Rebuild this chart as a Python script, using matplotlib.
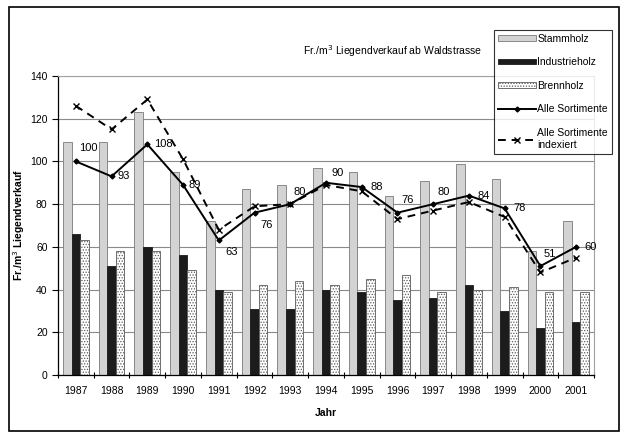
import matplotlib
matplotlib.use("Agg")
import matplotlib.pyplot as plt
from matplotlib.patches import Rectangle
import numpy as np

plt.rcParams["font.family"] = ["Liberation Sans", "DejaVu Sans"]
plt.rcParams["hatch.linewidth"] = 0.6

years = [1987, 1988, 1989, 1990, 1991, 1992, 1993, 1994,
         1995, 1996, 1997, 1998, 1999, 2000, 2001]
stammholz = [109, 109, 123, 95, 72, 87, 89, 97, 95, 84, 91, 99, 92, 58, 72]
industrieholz = [66, 51, 60, 56, 40, 31, 31, 40, 39, 35, 36, 42, 30, 22, 25]
brennholz = [63, 58, 58, 49, 39, 42, 44, 42, 45, 47, 39, 40, 41, 39, 39]
alle = [100, 93, 108, 89, 63, 76, 80, 90, 88, 76, 80, 84, 78, 51, 60]
alle_idx = [126, 115, 129, 101, 68, 79, 80, 89, 86, 73, 77, 81, 74, 48, 55]

# label offsets in points (dx, dy) for the value labels
label_off = [(2, 10), (4, 0), (5, 0), (4, 0), (5, -8), (4, -9), (2, 9), (4, 7),
             (6, 0), (3, 9), (3, 9), (6, 0), (6, 0), (2, 9), (6, 0)]

fig = plt.figure(figsize=(6.24, 4.34), dpi=100)
ax = fig.add_axes([58 / 624, 1 - 375 / 434, (594 - 58) / 624, (375 - 76) / 434])

x = np.arange(len(years))
w = 0.24
ax.bar(x - w, stammholz, w, color="#d3d3d3", edgecolor="#7a7a7a", linewidth=0.6, zorder=2)
ax.bar(x, industrieholz, w, color="#1c1c1c", edgecolor="#1c1c1c", linewidth=0.6, zorder=2)
ax.bar(x + w, brennholz, w, color="white", edgecolor="#5a5a5a", hatch="......",
       linewidth=0.6, zorder=2)

ax.plot(x, alle, color="black", lw=1.4, marker="D", ms=2.5, zorder=4)
ax.plot(x, alle_idx, color="black", lw=1.4, ls=(0, (4, 3)), marker="x", ms=4,
        mew=1.0, zorder=3)

for xi, v, (dx, dy) in zip(x, alle, label_off):
    ax.annotate(str(v), (xi, v), xytext=(dx, dy), textcoords="offset points",
                ha="left", va="center", fontsize=8, zorder=5)

ax.set_xlim(-0.5, len(years) - 0.5)
ax.set_ylim(0, 140)
ax.set_yticks(range(0, 141, 20))
ax.set_xticks(x)
ax.set_xticklabels(years)
ax.set_xticks(np.arange(-0.5, len(years)), minor=True)
ax.tick_params(axis="x", which="major", length=0, labelsize=7.5, pad=8)
ax.tick_params(axis="x", which="minor", length=5, direction="inout", width=0.8)
ax.tick_params(axis="y", length=4, width=0.8, labelsize=7.5)
ax.yaxis.grid(True, color="#8a8a8a", lw=0.8, zorder=0)
ax.set_axisbelow(True)
for s in ["top", "right"]:
    ax.spines[s].set_color("#a0a0a0")
    ax.spines[s].set_linewidth(0.8)
ax.spines["left"].set_linewidth(0.9)
ax.spines["bottom"].set_linewidth(0.9)

ax.set_ylabel("Fr./m$^3$ Liegendverkauf", fontsize=7.5, fontweight="bold")
ax.yaxis.set_label_coords(-0.058, 0.5)
ax.set_xlabel("Jahr", fontsize=7.5, fontweight="bold")
ax.xaxis.set_label_coords(0.5, -0.11)

fig.text(303 / 624, 1 - 51 / 434, "Fr./m$^3$ Liegendverkauf ab Waldstrasse",
         fontsize=7.5, ha="left", va="center")

# legend
h_st = Rectangle((0, 0), 1, 1, facecolor="#d3d3d3", edgecolor="#7a7a7a", lw=0.6)
h_in = Rectangle((0, 0), 1, 1, facecolor="#1c1c1c", edgecolor="#1c1c1c", lw=0.6)
h_br = Rectangle((0, 0), 1, 1, facecolor="white", edgecolor="#5a5a5a", hatch="......", lw=0.6)
h_al = plt.Line2D([], [], color="black", lw=1.4, marker="D", ms=2.5)
h_ix = plt.Line2D([], [], color="black", lw=1.4, ls=(0, (4, 3)), marker="x", ms=4)
leg = fig.legend([h_st, h_in, h_br, h_al, h_ix],
                 ["Stammholz", "Industrieholz", "Brennholz", "Alle Sortimente",
                  "Alle Sortimente\nindexiert"],
                 loc="upper left", bbox_to_anchor=(494 / 624, 1 - 30 / 434),
                 fontsize=7.5, frameon=True, fancybox=False, edgecolor="black",
                 handlelength=3.7, handleheight=0.5, handletextpad=0.1,
                 labelspacing=1.3, borderpad=0.35, borderaxespad=0)
leg.get_frame().set_linewidth(0.8)
for t in leg.get_texts():
    t.set_linespacing(1.3)

fig.patches.append(Rectangle((9 / 624, 3 / 434), 610 / 624, 424 / 434,
                             transform=fig.transFigure, fill=False,
                             edgecolor="black", lw=1.2))

fig.savefig("out.png", dpi=100)
